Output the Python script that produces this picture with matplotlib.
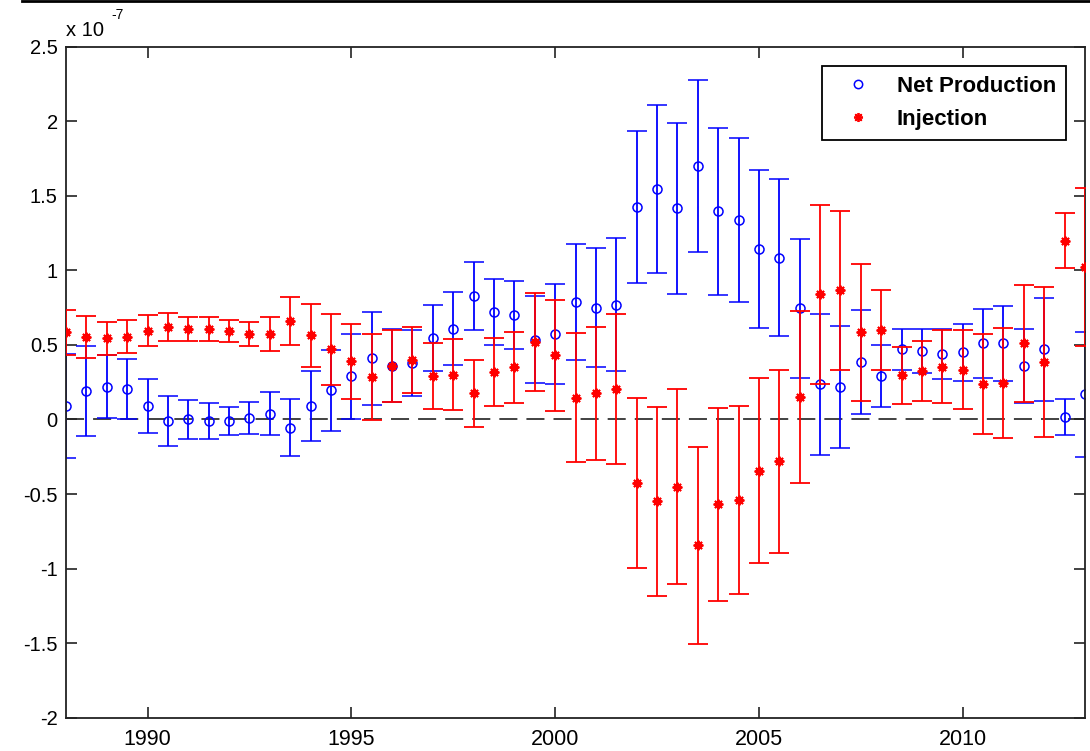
import numpy as np
import matplotlib
matplotlib.use("Agg")
import matplotlib.pyplot as plt
from matplotlib.lines import Line2D
from matplotlib.ticker import FuncFormatter

plt.rcParams['font.family'] = ['Liberation Sans', 'DejaVu Sans']

# half-year time steps
years = [1988.0, 1988.5, 1989.0, 1989.5, 1990.0, 1990.5, 1991.0, 1991.5, 1992.0, 1992.5,
         1993.0, 1993.5, 1994.0, 1994.5, 1995.0, 1995.5, 1996.0, 1996.5, 1997.0, 1997.5,
         1998.0, 1998.5, 1999.0, 1999.5, 2000.0, 2000.5, 2001.0, 2001.5, 2002.0, 2002.5,
         2003.0, 2003.5, 2004.0, 2004.5, 2005.0, 2005.5, 2006.0, 2006.5, 2007.0, 2007.5,
         2008.0, 2008.5, 2009.0, 2009.5, 2010.0, 2010.5, 2011.0, 2011.5, 2012.0, 2012.5,
         2013.0]

# values in units of 1e-7
net_prod = [0.09, 0.19, 0.22, 0.205, 0.09, -0.01, 0.0, -0.01, -0.01, 0.01,
            0.04, -0.055, 0.09, 0.195, 0.29, 0.41, 0.36, 0.38, 0.545, 0.61,
            0.825, 0.72, 0.70, 0.535, 0.575, 0.79, 0.75, 0.77, 1.425, 1.545,
            1.415, 1.70, 1.395, 1.34, 1.145, 1.085, 0.745, 0.235, 0.22, 0.385,
            0.29, 0.47, 0.46, 0.44, 0.45, 0.51, 0.51, 0.36, 0.47, 0.015,
            0.17]
net_err = [0.35, 0.30, 0.21, 0.20, 0.18, 0.165, 0.13, 0.12, 0.096, 0.11,
           0.143, 0.19, 0.235, 0.27, 0.285, 0.31, 0.245, 0.22, 0.223, 0.243,
           0.228, 0.223, 0.228, 0.29, 0.335, 0.39, 0.40, 0.447, 0.51, 0.565,
           0.575, 0.575, 0.56, 0.55, 0.53, 0.526, 0.467, 0.47, 0.41, 0.35,
           0.208, 0.14, 0.15, 0.167, 0.19, 0.234, 0.252, 0.25, 0.345, 0.12,
           0.42]

injection = [0.585, 0.555, 0.545, 0.555, 0.595, 0.62, 0.605, 0.605, 0.595, 0.575,
             0.575, 0.66, 0.565, 0.47, 0.39, 0.285, 0.36, 0.40, 0.29, 0.30,
             0.175, 0.32, 0.35, 0.52, 0.43, 0.145, 0.175, 0.205, -0.425, -0.55,
             -0.45, -0.845, -0.57, -0.54, -0.345, -0.28, 0.15, 0.84, 0.865, 0.585,
             0.60, 0.295, 0.325, 0.355, 0.335, 0.235, 0.245, 0.51, 0.385, 1.20,
             1.025]
inj_err = [0.15, 0.14, 0.11, 0.11, 0.105, 0.096, 0.08, 0.08, 0.075, 0.08,
           0.115, 0.16, 0.21, 0.24, 0.25, 0.29, 0.24, 0.22, 0.22, 0.237,
           0.223, 0.228, 0.239, 0.326, 0.373, 0.433, 0.447, 0.505, 0.57, 0.635,
           0.655, 0.66, 0.65, 0.633, 0.62, 0.613, 0.575, 0.60, 0.53, 0.46,
           0.27, 0.19, 0.20, 0.243, 0.268, 0.335, 0.37, 0.39, 0.505, 0.185,
           0.53]

scale = 1e-7
x = np.array(years)

fig = plt.figure(figsize=(10.9, 7.51), dpi=100)
ax = fig.add_axes([66 / 1090, 1 - 717.7 / 751, 1019 / 1090, 671 / 751])

ax.axhline(0, color='#333333', lw=1.3, ls=(0, (10, 5)), zorder=1)

ax.errorbar(x, np.array(net_prod) * scale, yerr=np.array(net_err) * scale,
            fmt='o', color='b', ecolor='b', mfc='none', mec='b', ms=6.5, mew=1.1,
            elinewidth=1.3, capsize=7.5, capthick=1.3, zorder=2)
ax.errorbar(x, np.array(injection) * scale, yerr=np.array(inj_err) * scale,
            fmt='none', ecolor='r', elinewidth=1.3, capsize=7.5, capthick=1.3, zorder=3)
ax.plot(x, np.array(injection) * scale, ls='none', marker=(8, 2, 0), color='r',
        ms=7, mew=1.4, zorder=4)

ax.set_xlim(1988, 2013)
ax.set_ylim(-2e-7, 2.5e-7)
ax.set_xticks([1990, 1995, 2000, 2005, 2010])
ax.set_yticks(np.arange(-2, 2.51, 0.5) * scale)
ax.yaxis.set_major_formatter(FuncFormatter(lambda v, p: ('%g' % round(v / scale, 2))))
ax.tick_params(direction='in', length=8, width=1.2, top=True, right=True,
               colors='#222222', labelcolor='black')
ax.tick_params(axis='y', labelsize=14.5, pad=6)
ax.tick_params(axis='x', labelsize=15.5, pad=8)
for s in ax.spines.values():
    s.set_linewidth(1.3)
    s.set_color('#222222')

fig.text(66 / 1090, 1 - 36 / 751, 'x 10', fontsize=14.5, ha='left', va='baseline')
fig.text(111 / 1090, 1 - 19 / 751, '-7', fontsize=10, ha='left', va='baseline')

handles = [Line2D([], [], ls='none', marker='o', mfc='none', mec='b', ms=6, mew=1.1),
           Line2D([], [], ls='none', marker=(8, 2, 0), color='r', ms=6.5, mew=1.3)]
leg = ax.legend(handles, ['Net Production', 'Injection'], loc='upper right',
                bbox_to_anchor=((1066 - 66) / 1019, (717.7 - 66) / 671),
                borderaxespad=0, fancybox=False, framealpha=1, edgecolor='black',
                prop={'size': 16, 'weight': 'bold'}, labelspacing=0.55,
                handlelength=2.3, handletextpad=0.6, borderpad=0.45)
leg.get_frame().set_linewidth(1.3)

# top border line seen in the source image
fig.add_artist(Line2D([22 / 1090, 1], [1 - 1.3 / 751, 1 - 1.3 / 751], color='black', lw=2))

fig.savefig('out.png', dpi=100)
